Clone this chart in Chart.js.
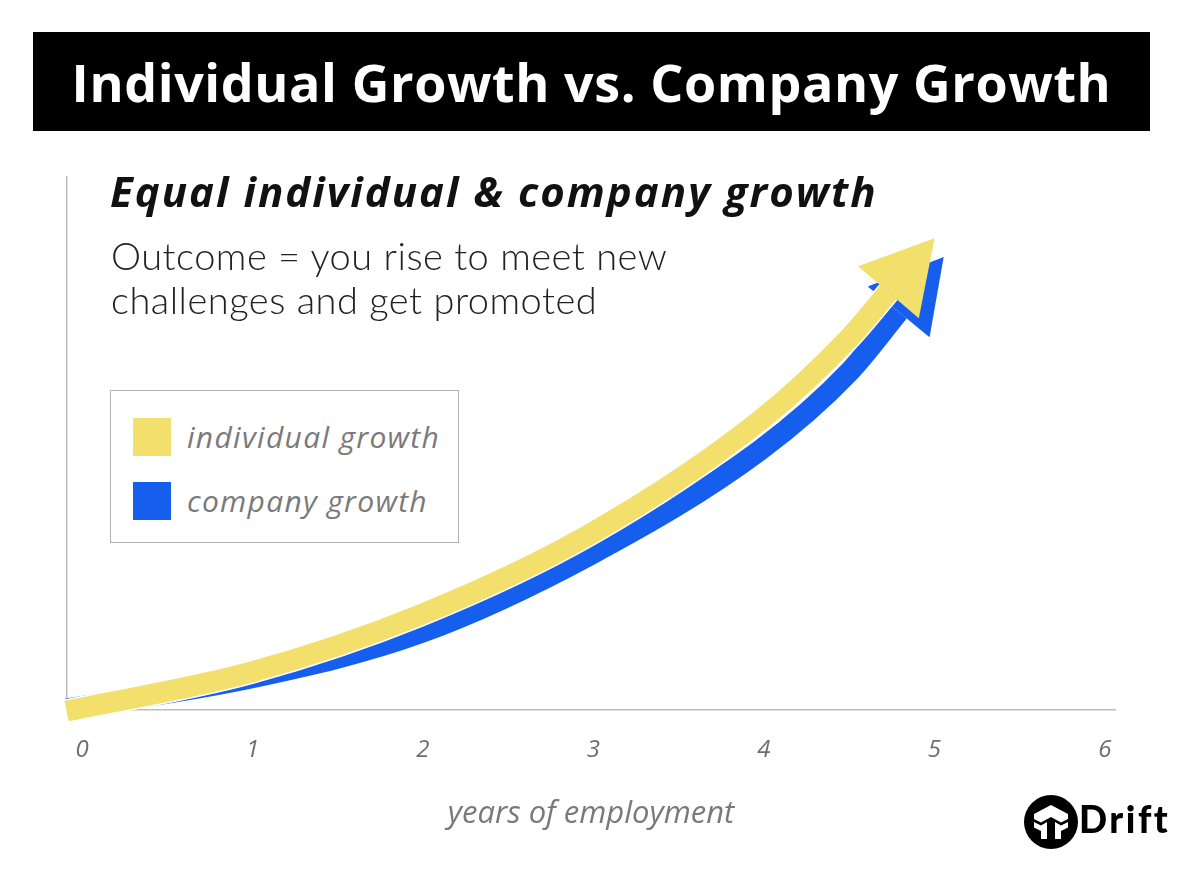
<!DOCTYPE html>
<html>
<head>
<meta charset="utf-8">
<title>Individual Growth vs. Company Growth</title>
<script src="https://cdn.jsdelivr.net/npm/chart.js@4.4.1/dist/chart.umd.min.js"></script>
<style>
  html, body { margin: 0; padding: 0; background: #fff; }
  #wrap { position: relative; width: 1200px; height: 893px; overflow: hidden; font-family: "Open Sans", Lato, sans-serif; }
  #growth-chart { position: absolute; left: 0; top: 0; }
  .banner { position: absolute; left: 33px; top: 32px; width: 1117px; height: 99px; background: #000; color: #fff;
            font-weight: 700; font-size: 52px; line-height: 99px; text-align: center; white-space: nowrap;
            letter-spacing: 0.6px; }
  .headline { position: absolute; left: 110px; top: 167px; font-weight: 700; font-style: italic; font-size: 42px;
              line-height: 48px; color: #111; letter-spacing: 2px; white-space: nowrap; }
  .outcome { position: absolute; left: 111px; top: 233px; font-family: Lato, sans-serif; font-weight: 300;
             font-size: 38px; line-height: 44px; color: #222; letter-spacing: 0.5px; white-space: nowrap; }
  .legend { position: absolute; left: 110px; top: 390px; width: 349px; height: 153px; box-sizing: border-box;
            border: 1.5px solid #b0b0b0; background: #fff; }
  .legend-row { position: absolute; left: 22px; height: 38px; }
  .legend-row .swatch { position: absolute; left: 0; top: 0; width: 38px; height: 38px; }
  .legend-row .label { position: absolute; left: 54px; top: 0; line-height: 38px; font-size: 30px; font-style: italic;
                       color: #7a7a7a; white-space: nowrap; letter-spacing: 1.3px; }
  .drift { position: absolute; left: 1023px; top: 794px; height: 56px; }
  .drift svg { position: absolute; left: 0; top: 0; }
  .drift span { position: absolute; left: 56px; top: 3px; font-family: Lato, sans-serif; font-weight: 900;
                font-size: 37px; line-height: 44px; color: #000; letter-spacing: 2.5px; }
</style>
</head>
<body>
<div id="wrap">
  <canvas id="growth-chart" width="1200" height="893"></canvas>
  <div class="banner">Individual Growth vs. Company Growth</div>
  <div class="headline">Equal individual &amp; company growth</div>
  <div class="outcome">Outcome = you rise to meet new<br>challenges and get promoted</div>
  <div class="legend" id="legend"></div>
  <div class="drift">
    <svg width="56" height="56" viewBox="0 0 56 56">
      <circle cx="28" cy="28" r="27" fill="#000"/>
      <path d="M11 20 L28 11 L45 20 L45 25 L38 28.5 L28 23 L18 28.5 L11 25 Z" fill="#fff"/>
      <path d="M11 28 L18 31.5 L24 28 L24 45 L18 45 L18 37 L11 33.5 Z" fill="#fff"/>
      <path d="M45 28 L38 31.5 L32 28 L32 45 L38 45 L38 37 L45 33.5 Z" fill="#fff"/>
    </svg>
    <span>Drift</span>
  </div>
</div>
<script>
(function () {
  "use strict";

  // values: x in years, y on a 0-100 growth scale
  var X_TICKS = [0, 1, 2, 3, 4, 5, 6];
  var X_TITLE = "years of employment";

  var IND_YEARS = [-0.09, 0.99, 1.98, 2.98, 3.98, 4.5, 4.73];
  var IND_GROWTH = [-0.2, 7.1, 17.8, 33.0, 54.4, 69.8, 78.4];

  var CO_YEARS = [-0.09, 0.99, 1.98, 2.98, 3.98, 4.5, 4.79];
  var CO_GROWTH = [0.2, 6.0, 14.4, 29.1, 48.8, 63.4, 74.7];

  var SERIES_LABELS = ["individual growth", "company growth"];
  var SERIES_COLORS = ["#f3df6c", "#165eee"];

  function points(xs, ys) {
    return xs.map(function (x, i) { return { x: x, y: ys[i] }; });
  }

  // triangle head at the end of a series, pointing along its last segment
  var arrowHeads = {
    id: "arrowHeads",
    afterDatasetDraw: function (chart, args) {
      var ds = chart.data.datasets[args.index];
      if (!ds.arrow) return;
      var pts = args.meta.data;
      var end = pts[pts.length - 1];
      var prev = pts[pts.length - 2];
      var dx = end.x - prev.x, dy = end.y - prev.y;
      var len = Math.sqrt(dx * dx + dy * dy);
      var ux = dx / len, uy = dy / len;
      var L = 71, W = 40;
      var ctx = chart.ctx;
      ctx.save();
      ctx.fillStyle = ds.borderColor;
      ctx.beginPath();
      ctx.moveTo(end.x + ux * L, end.y + uy * L);
      ctx.lineTo(end.x - uy * W, end.y + ux * W);
      ctx.lineTo(end.x + uy * W, end.y - ux * W);
      ctx.closePath();
      ctx.fill();
      ctx.restore();
    }
  };

  function buildLegend() {
    var box = document.getElementById("legend");
    SERIES_LABELS.forEach(function (label, i) {
      var row = document.createElement("div");
      row.className = "legend-row";
      row.style.top = (27 + i * 64) + "px";
      var sw = document.createElement("div");
      sw.className = "swatch";
      sw.style.background = SERIES_COLORS[i];
      var tx = document.createElement("div");
      tx.className = "label";
      tx.textContent = label;
      row.appendChild(sw);
      row.appendChild(tx);
      box.appendChild(row);
    });
  }

  var axisColor = "#bdbdbd";

  new Chart(document.getElementById("growth-chart"), {
    type: "line",
    data: {
      datasets: [
        {
          label: SERIES_LABELS[0],
          data: points(IND_YEARS, IND_GROWTH),
          borderColor: SERIES_COLORS[0],
          borderWidth: 21,
          arrow: true,
          clip: false
        },
        {
          label: "halo",
          data: points(IND_YEARS, IND_GROWTH),
          borderColor: "#ffffff",
          borderWidth: 24,
          arrow: false,
          clip: false
        },
        {
          label: SERIES_LABELS[1],
          data: points(CO_YEARS, CO_GROWTH),
          borderColor: SERIES_COLORS[1],
          borderWidth: 21,
          arrow: true,
          clip: false
        }
      ]
    },
    options: {
      responsive: false,
      animation: false,
      events: [],
      layout: { padding: { left: 67, right: 85, top: 177, bottom: 56 } },
      elements: {
        point: { radius: 0 },
        line: { cubicInterpolationMode: "monotone", borderCapStyle: "butt", borderJoinStyle: "round", fill: false }
      },
      plugins: { legend: { display: false }, tooltip: { enabled: false } },
      scales: {
        x: {
          type: "linear",
          min: -0.088,
          max: 6.059,
          grid: { display: false, drawTicks: false },
          border: { color: axisColor, width: 1.5 },
          afterBuildTicks: function (scale) {
            scale.ticks = X_TICKS.map(function (v) { return { value: v }; });
          },
          ticks: {
            autoSkip: false,
            maxRotation: 0,
            padding: 25.5,
            color: "#6e6e6e",
            font: { family: "Open Sans", style: "italic", size: 24 },
            callback: function (v) { return String(v); }
          },
          title: {
            display: true,
            text: X_TITLE,
            color: "#7a7a7a",
            font: { family: "Open Sans", style: "italic", size: 31 },
            padding: { top: 6, bottom: 4 }
          }
        },
        y: {
          min: 0,
          max: 100,
          grid: { display: false, drawTicks: false },
          border: { color: axisColor, width: 1.5 },
          ticks: { display: false }
        }
      }
    },
    plugins: [arrowHeads]
  });

  buildLegend();
})();
</script>
</body>
</html>
